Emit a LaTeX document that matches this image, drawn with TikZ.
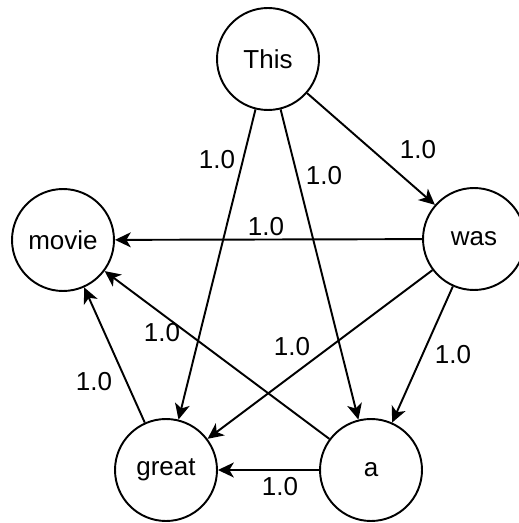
\documentclass[tikz,border=0pt]{standalone}
\usepackage{fontspec}
\setmainfont{Liberation Sans}
\usepackage{tikz}
\usetikzlibrary{arrows.meta}
\tikzset{
  wordnode/.style={circle,draw=black,line width=1.1pt,minimum size=2.04cm,inner sep=0pt,font=\fontsize{14.8}{17}\selectfont},
  wlabel/.style={inner sep=0pt,font=\fontsize{14.8}{17}\selectfont},
  wedge/.style={-{Stealth[length=9pt,width=8.5pt,inset=2.5pt]},line width=1.1pt,black},
}

\begin{document}
\begin{tikzpicture}[x=0.02cm,y=-0.02cm]
  \useasboundingbox (0,0) rectangle (518,523);
  \node[wordnode] (nThis) at (268,59) {This};
  \node[wordnode] (nWas) at (474,239) {was};
  \node[wordnode] (nMovie) at (63,240) {movie};
  \node[wordnode] (nGreat) at (166,470) {great};
  \node[wordnode] (nA) at (371,470) {a};
  \draw[wedge] (nThis) -- (nWas);
  \draw[wedge] (nThis) -- (nGreat);
  \draw[wedge] (nThis) -- (nA);
  \draw[wedge] (nWas) -- (nMovie);
  \draw[wedge] (nWas) -- (nGreat);
  \draw[wedge] (nWas) -- (nA);
  \draw[wedge] (nA) -- (nMovie);
  \draw[wedge] (nGreat) -- (nMovie);
  \draw[wedge] (nA) -- (nGreat);
  % weights
  \node[wlabel] (wThisWas) at (418,150) {1.0};
  \node[wlabel] (wThisGreat) at (217,160) {1.0};
  \node[wlabel] (wThisA) at (324,176) {1.0};
  \node[wlabel] (wWasMovie) at (266,227) {1.0};
  \node[wlabel] (wAMovie) at (162,333) {1.0};
  \node[wlabel] (wWasGreat) at (292,347) {1.0};
  \node[wlabel] (wWasA) at (453,355) {1.0};
  \node[wlabel] (wGreatMovie) at (94,382) {1.0};
  \node[wlabel] (wAGreat) at (280,487) {1.0};
\end{tikzpicture}
\end{document}
